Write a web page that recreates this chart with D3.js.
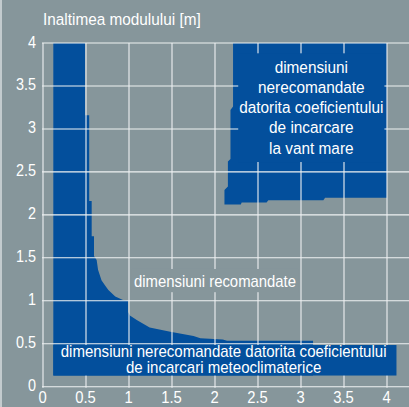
<!DOCTYPE html>
<html>
<head>
<meta charset="utf-8">
<script src="https://cdn.jsdelivr.net/npm/d3@7"></script>
<style>
  html, body { margin: 0; padding: 0; background: #86969b; }
  svg { display: block; }
  text { font-family: "Liberation Sans", Arial, sans-serif; fill: #fff; }
</style>
</head>
<body>
<div id="chart"></div>
<script>
// tick values on both axes
var xTicks = [0, 0.5, 1, 1.5, 2, 2.5, 3, 3.5, 4];
var yTicks = [0, 0.5, 1, 1.5, 2, 2.5, 3, 3.5, 4];

// boundary of the recommended zone (width [m], height [m])
var curveW = [0.49, 0.49, 0.537, 0.537, 0.566, 0.566, 0.593, 0.593, 0.624, 0.64, 0.68, 0.72, 0.76, 0.84, 0.93, 0.99, 0.99, 1.01, 1.09, 1.24, 1.48, 1.75, 1.83, 2.09, 2.14, 3.14, 3.14];
var curveH = [4.0, 3.16, 3.16, 2.16, 2.16, 1.75, 1.75, 1.52, 1.475, 1.36, 1.24, 1.18, 1.126, 1.05, 1.01, 1.0, 0.87, 0.83, 0.776, 0.69, 0.64, 0.59, 0.563, 0.55, 0.535, 0.535, 0.49];
var zoneLeft = 0.12, zoneBottom = 0.13;

// wind load zone outline
var windW = [2.21, 2.21, 2.18, 2.18, 2.15, 2.15, 2.11, 2.11, 2.30, 2.31, 2.60, 2.62, 3.26, 3.28, 4.0, 4.0];
var windH = [4.0, 3.26, 3.22, 2.65, 2.62, 2.33, 2.29, 2.12, 2.12, 2.145, 2.145, 2.17, 2.17, 2.20, 2.20, 4.0];

// bottom band (weather load)
var bandW = [0.12, 4.11];
var bandH = [0.13, 0.485];

var titleText = "Inaltimea modulului [m]";
var recText = "dimensiuni recomandate";
var windText = ["dimensiuni", "nerecomandate", "datorita coeficientului", "de incarcare", "la vant mare"];
var bandText = ["dimensiuni nerecomandate datorita coeficientului", "de incarcari meteoclimaterice"];

var W = 409, H = 407;
var margin = { top: 43, right: 22, bottom: 20.3, left: 43 };
var blue = "#034f9c", bg = "#86969b", gridColor = "#eef1f2";

var x = d3.scaleLinear().domain([0, 4]).range([margin.left, W - margin.right]);
var y = d3.scaleLinear().domain([0, 4]).range([H - margin.bottom, margin.top]);

var svg = d3.select("#chart").append("svg").attr("width", W).attr("height", H);
svg.append("rect").attr("width", W).attr("height", H).attr("fill", bg);
svg.append("rect").attr("width", 2).attr("height", H).attr("fill", "#c3cbce");

var line = d3.line().x(function(d) { return x(d[0]); }).y(function(d) { return y(d[1]); });

// condensed look: place text with a translate and squeeze it horizontally
function place(px, py, sx) {
  return "translate(" + px + "," + py + ") scale(" + sx + ",1)";
}

// left zone under the curve
var zone = [[zoneLeft, 4]].concat(curveW.map(function(w, i) { return [w, curveH[i]]; }))
  .concat([[curveW[curveW.length - 1], zoneBottom], [zoneLeft, zoneBottom]]);
svg.append("path").datum(zone).attr("d", line).attr("fill", blue);

var wind = windW.map(function(w, i) { return [w, windH[i]]; });
svg.append("path").datum(wind).attr("d", line).attr("fill", blue);

// grid
var g = svg.append("g").attr("stroke", gridColor).attr("stroke-width", 1.1);
g.selectAll("line.v").data(xTicks).enter().append("line")
  .attr("x1", function(d) { return x(d); }).attr("x2", function(d) { return x(d); })
  .attr("y1", y(4)).attr("y2", y(0) + 1);
g.selectAll("line.h").data(yTicks).enter().append("line")
  .attr("x1", x(0) - 1).attr("x2", W)
  .attr("y1", function(d) { return y(d); }).attr("y2", function(d) { return y(d); });

// label boxes (cover the grid)
svg.append("rect")
  .attr("x", x(bandW[0])).attr("y", y(bandH[1]))
  .attr("width", x(bandW[1]) - x(bandW[0])).attr("height", y(bandH[0]) - y(bandH[1]))
  .attr("fill", blue);
svg.append("rect")
  .attr("x", x(2.27)).attr("y", y(3.88))
  .attr("width", x(3.97) - x(2.27)).attr("height", y(2.615) - y(3.88))
  .attr("fill", blue);
svg.append("rect")
  .attr("x", x(1.03)).attr("y", y(1.37))
  .attr("width", x(2.97) - x(1.03)).attr("height", y(1.10) - y(1.37))
  .attr("fill", bg);

// axis labels
svg.append("g").selectAll("text").data(yTicks).enter().append("text")
  .attr("transform", function(d) { return place(36, y(d) + 4.5, 0.9); })
  .attr("text-anchor", "end").style("font-size", "16px")
  .text(function(d) { return d; });
svg.append("g").selectAll("text").data(xTicks).enter().append("text")
  .attr("transform", function(d) { return place(x(d) - 0.5, 403, 0.87); })
  .attr("text-anchor", "middle").style("font-size", "17px")
  .text(function(d) { return d; });

svg.append("text").attr("transform", place(43, 25, 0.93))
  .style("font-size", "16.5px")
  .text(titleText);

svg.append("text").attr("transform", place(x(2.0), y(1.16), 0.93))
  .attr("text-anchor", "middle").style("font-size", "16px")
  .text(recText);

var windY = [3.655, 3.42, 3.18, 2.95, 2.71];
svg.append("g").selectAll("text").data(windText).enter().append("text")
  .attr("transform", function(d, i) { return place(x(3.12), y(windY[i]), 0.96); })
  .attr("text-anchor", "middle").style("font-size", "16px")
  .text(function(d) { return d; });

var bandY = [0.345, 0.155];
svg.append("g").selectAll("text").data(bandText).enter().append("text")
  .attr("transform", function(d, i) { return place(x(2.1), y(bandY[i]), 0.94); })
  .attr("text-anchor", "middle").style("font-size", "16px")
  .text(function(d) { return d; });
</script>
</body>
</html>
